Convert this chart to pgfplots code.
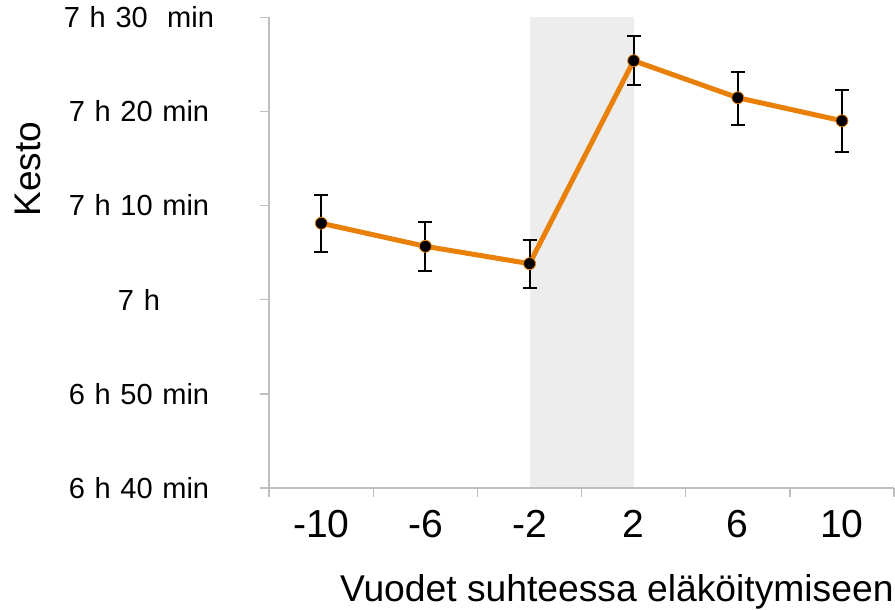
\documentclass[border=0pt]{standalone}
\usepackage{pgfplots}
\pgfplotsset{compat=1.18}
\usepackage{fontspec}
\setmainfont{Liberation Sans}
\definecolor{lineor}{RGB}{232,128,10}
\definecolor{shade}{RGB}{237,237,237}
\definecolor{axgray}{RGB}{191,191,191}
\begin{document}
\begin{tikzpicture}
\begin{axis}[
  scale only axis, width=312pt, height=235pt,
  xmin=-0.5, xmax=5.5, ymin=400, ymax=450,
  axis x line*=bottom, axis y line*=left,
  axis line style={-, axgray, line width=0.75pt},
  axis on top,
  tick align=outside,
  major tick length=4.5pt,
  tick style={axgray, line width=0.75pt},
  xtick={-0.5,0.5,...,5.5}, xticklabels={},
  xticklabel style={inner sep=0pt},
  extra x ticks={0,1,2,3,4,5},
  extra x tick labels={-10,-6,-2,2,6,10},
  extra x tick style={major tick length=0pt, tick label style={inner sep=3pt, font=\fontsize{19.5}{23}\selectfont, yshift=-11pt}},
  ytick={400,410,420,430,440,450},
  yticklabels={6 h 40 min, 6 h 50 min, 7 h, 7 h 10 min, 7 h 20 min, 7 h 30\ \ min},
  yticklabel style={font=\fontsize{14.5}{17}\selectfont, text width=108pt, align=center, xshift=-3pt},
  ylabel={Kesto},
  ylabel style={at={(axis description cs:-0.386,0.677)}, anchor=center, minimum height=28pt, font=\fontsize{18.5}{22}\selectfont},
  xlabel={Vuodet suhteessa eläköitymiseen},
  xlabel style={at={(axis description cs:1,0)}, anchor=north east, inner sep=0pt, yshift=-43pt, font=\fontsize{18.6}{22}\selectfont},
  clip=false,
]
\addplot[fill=shade, draw=none] coordinates {(2,400) (2,450) (3,450) (3,400)} -- cycle;
\addplot[
  color=lineor, line width=2.5pt,
  mark=*, mark size=3pt,
  mark options={fill=black, draw=lineor, line width=0.4pt},
  error bars/.cd, y dir=both, y explicit,
  error bar style={black, line width=1pt},
  error mark options={rotate=90, black, mark size=3.5pt, line width=1pt},
] coordinates {
  (0,428.12) += (0,2.98) -= (0,3.05)
  (1,425.67) += (0,2.63) -= (0,2.66)
  (2,423.83) += (0,2.52) -= (0,2.63)
  (3,445.39) += (0,2.59) -= (0,2.62)
  (4,441.46) += (0,2.72) -= (0,2.87)
  (5,439.01) += (0,3.26) -= (0,3.34)
};
\end{axis}
\end{tikzpicture}
\end{document}
